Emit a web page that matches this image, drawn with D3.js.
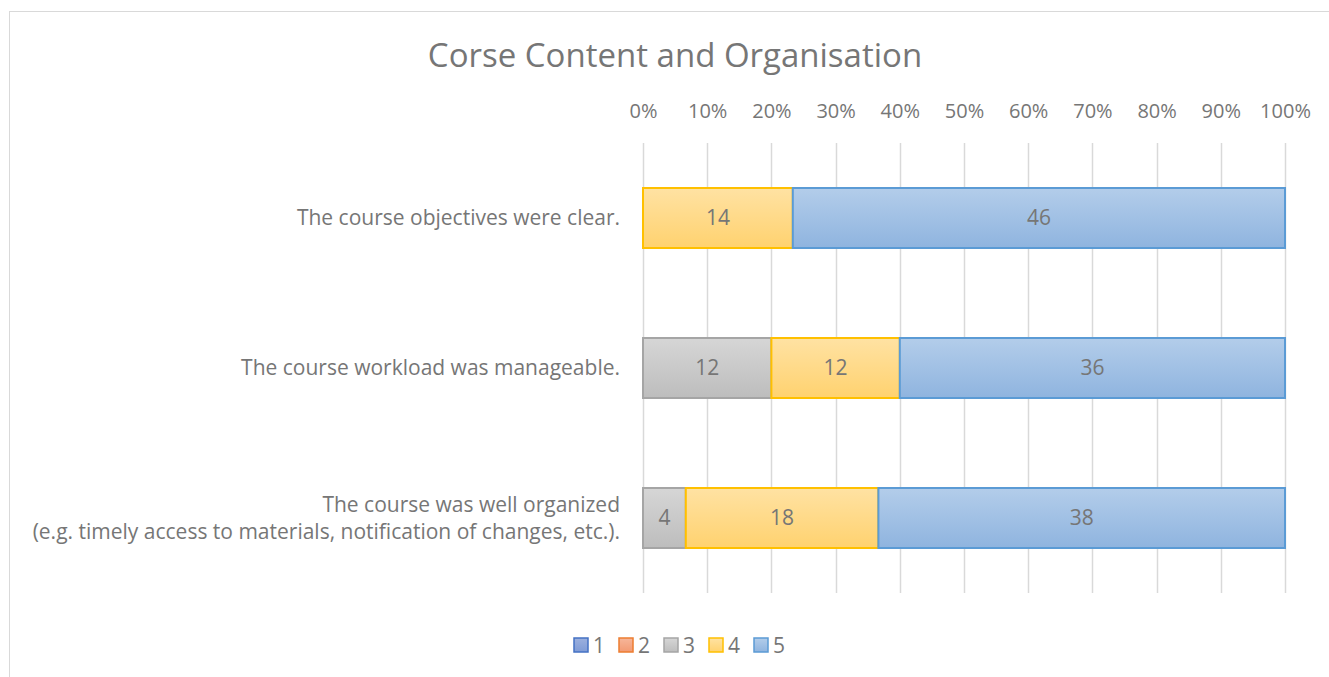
<!DOCTYPE html>
<html lang="en">
<head>
<meta charset="utf-8">
<title>Corse Content and Organisation</title>
<script src="https://cdnjs.cloudflare.com/ajax/libs/d3/7.8.5/d3.min.js"></script>
<style>
  body { margin: 0; background: #fff; }
  text { font-family: "Open Sans", sans-serif; fill: #767676; }
</style>
</head>
<body>
<div id="chart"></div>
<script>
// survey answers, counts per rating (ratings 1..5)
const questions = [
  "The course objectives were clear.",
  "The course workload was manageable.",
  "The course was well organized\n(e.g. timely access to materials, notification of changes, etc.)."
];
const ratings = ["1", "2", "3", "4", "5"];
const r1 = [0, 0, 0];
const r2 = [0, 0, 0];
const r3 = [0, 12, 4];
const r4 = [14, 12, 18];
const r5 = [46, 36, 38];
const tickLabels = ["0%","10%","20%","30%","40%","50%","60%","70%","80%","90%","100%"];

const counts = [r1, r2, r3, r4, r5];

const W = 1329, H = 677;
const x0 = 643, x1 = 1285, yTop = 143, yBot = 593;

const strokeCol = ["#4472c4", "#ed7d31", "#a5a5a5", "#ffc000", "#5b9bd5"];
const gradTop   = ["#9cb0de", "#f6b69a", "#d6d6d6", "#ffe2a3", "#b3cdea"];
const gradBot   = ["#7f9bd6", "#f29a73", "#bdbdbd", "#ffd26f", "#8fb4df"];

const svg = d3.select("#chart").append("svg")
  .attr("width", W).attr("height", H);

const defs = svg.append("defs");
ratings.forEach((r, i) => {
  const g = defs.append("linearGradient").attr("id", "g" + i)
    .attr("x1", 0).attr("y1", 0).attr("x2", 0).attr("y2", 1);
  g.append("stop").attr("offset", "0%").attr("stop-color", gradTop[i]);
  g.append("stop").attr("offset", "100%").attr("stop-color", gradBot[i]);
});

// outer chart border
svg.append("rect")
  .attr("x", 9.5).attr("y", 11.5)
  .attr("width", W + 20).attr("height", H + 20)
  .attr("fill", "none").attr("stroke", "#d9d9d9");

svg.append("text")
  .attr("x", 675).attr("y", 67)
  .attr("text-anchor", "middle")
  .style("font-size", "33px")
  .text("Corse Content and Organisation");

const x = d3.scaleLinear().domain([0, 1]).range([x0, x1]);
const y = d3.scaleBand().domain(d3.range(questions.length))
  .range([yTop, yBot]).paddingInner(0.6).paddingOuter(0.3);

// gridlines
svg.append("g").selectAll("line")
  .data(d3.range(0, 1.0001, 0.1))
  .join("line")
  .attr("x1", d => Math.round(x(d)) + 0.5).attr("x2", d => Math.round(x(d)) + 0.5)
  .attr("y1", yTop).attr("y2", yBot)
  .attr("stroke", "#d9d9d9").attr("stroke-width", 1.5);

// top axis labels
const ax = d3.axisTop(x).tickValues(d3.range(0, 1.0001, 0.1))
  .tickFormat((d, i) => tickLabels[i]).tickSize(0).tickPadding(0);
const axG = svg.append("g").attr("transform", "translate(0,118)").call(ax);
axG.select(".domain").remove();
axG.selectAll("text").style("font-size", "20px").attr("fill", "#767676")
  .style("font-family", '"Open Sans", sans-serif');

// stacked rows
const stacked = questions.map((q, qi) => {
  const total = d3.sum(counts, c => c[qi]);
  let acc = 0;
  return counts.map((c, ri) => {
    const v = c[qi];
    const seg = { qi, ri, v, a: acc / total, b: (acc + v) / total };
    acc += v;
    return seg;
  }).filter(s => s.v > 0);
}).flat();

const segs = svg.append("g").selectAll("g").data(stacked).join("g");
segs.append("rect")
  .attr("x", d => x(d.a)).attr("y", d => y(d.qi))
  .attr("width", d => x(d.b) - x(d.a)).attr("height", y.bandwidth())
  .attr("fill", d => `url(#g${d.ri})`)
  .attr("stroke", d => strokeCol[d.ri]).attr("stroke-width", 2);
segs.append("text")
  .attr("x", d => (x(d.a) + x(d.b)) / 2)
  .attr("y", d => y(d.qi) + y.bandwidth() / 2)
  .attr("text-anchor", "middle").attr("dy", "0.35em")
  .style("font-size", "21px")
  .text(d => d.v);

// category labels
questions.forEach((q, qi) => {
  const lines = q.split("\n");
  const cy = y(qi) + y.bandwidth() / 2;
  const t = svg.append("text")
    .attr("text-anchor", "end")
    .style("font-size", "21px");
  lines.forEach((l, li) => {
    t.append("tspan").attr("x", 620)
      .attr("y", cy + (li - (lines.length - 1) / 2) * 27)
      .attr("dy", "0.35em").text(l);
  });
});

// legend
const legX = [574, 619, 664, 709, 754];
const leg = svg.append("g").selectAll("g").data(ratings).join("g")
  .attr("transform", (d, i) => `translate(${legX[i]},638)`);
leg.append("rect").attr("width", 14).attr("height", 14)
  .attr("fill", (d, i) => `url(#g${i})`)
  .attr("stroke", (d, i) => strokeCol[i]).attr("stroke-width", 1.5);
leg.append("text").attr("x", 19).attr("y", 8).attr("dy", "0.35em")
  .style("font-size", "21px").text(d => d);
</script>
</body>
</html>
